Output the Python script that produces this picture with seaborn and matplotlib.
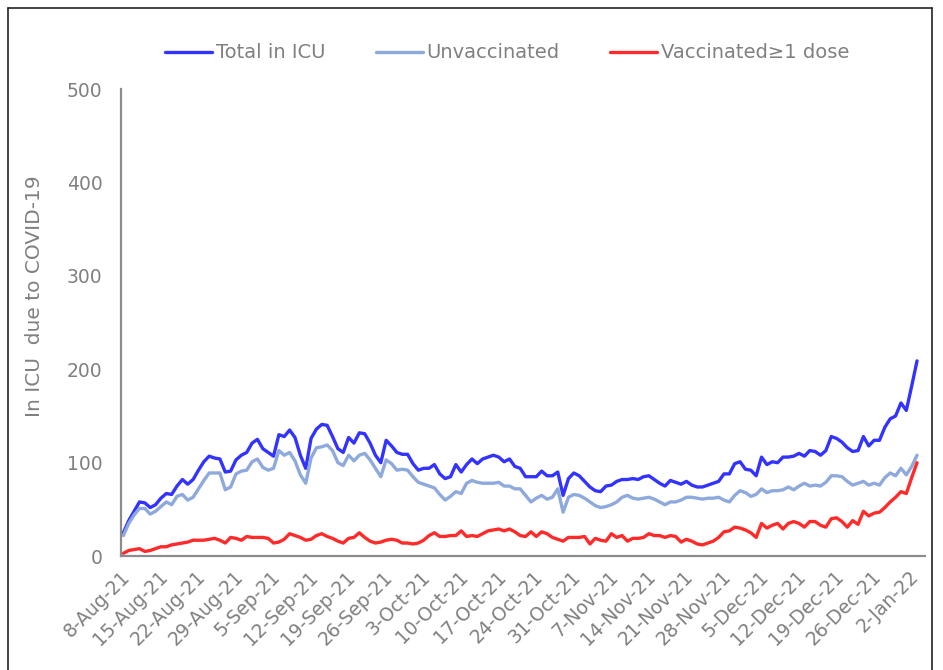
import pandas as pd
import numpy as np
import matplotlib
matplotlib.use("Agg")
import matplotlib.pyplot as plt
from matplotlib.lines import Line2D
import seaborn as sns

# Daily ICU census, 8-Aug-21 .. 3-Jan-22
start_date = "2021-08-08 12:00"

total_icu = [
    25, 38, 48, 58, 57, 52, 55, 62, 67, 66, 75, 82, 77, 82, 92, 101, 107, 105, 104, 90,
    91, 103, 108, 111, 121, 125, 115, 111, 107, 130, 128, 135, 127, 108, 94, 126, 136, 141, 140, 128,
    115, 111, 127, 121, 132, 131, 121, 108, 100, 124, 118, 111, 109, 109, 99, 92, 94, 94, 98, 88,
    83, 85, 98, 90, 98, 104, 99, 104, 106, 108, 106, 101, 104, 96, 94, 85, 85, 85, 91, 86,
    86, 90, 65, 83, 89, 86, 80, 74, 70, 69, 75, 76, 80, 82, 82, 83, 82, 85, 86, 82,
    78, 75, 81, 79, 77, 80, 76, 74, 74, 76, 78, 80, 88, 88, 99, 101, 93, 92, 86, 106,
    98, 101, 100, 106, 106, 107, 110, 107, 113, 112, 108, 113, 128, 126, 122, 116, 112, 113, 128, 118,
    124, 124, 138, 147, 150, 164, 156, 182, 209,
]

unvaccinated = [
    22, 35, 44, 51, 51, 45, 48, 53, 58, 55, 64, 66, 60, 63, 72, 81, 89, 89, 89, 71,
    74, 88, 91, 92, 101, 104, 95, 92, 94, 113, 108, 111, 102, 87, 78, 105, 116, 117, 119, 113,
    100, 97, 108, 102, 108, 110, 103, 94, 85, 103, 99, 92, 93, 92, 85, 79, 77, 75, 73, 66,
    60, 64, 69, 67, 78, 81, 79, 78, 78, 78, 79, 75, 75, 72, 72, 65, 58, 62, 65, 61,
    63, 72, 47, 63, 66, 65, 62, 58, 54, 52, 53, 55, 58, 63, 65, 62, 61, 62, 63, 61,
    58, 55, 58, 58, 60, 63, 63, 62, 61, 62, 62, 63, 60, 58, 65, 70, 68, 64, 66, 72,
    68, 70, 70, 71, 74, 71, 75, 78, 75, 76, 75, 79, 86, 86, 85, 80, 76, 78, 80, 76,
    78, 76, 84, 89, 86, 94, 87, 96, 108,
]

vaccinated = [
    3, 6, 7, 8, 5, 6, 8, 10, 10, 12, 13, 14, 15, 17, 17, 17, 18, 19, 17, 14,
    20, 19, 17, 21, 20, 20, 20, 19, 14, 15, 18, 24, 22, 20, 17, 18, 22, 24, 21, 19,
    16, 14, 19, 20, 25, 20, 16, 14, 15, 17, 18, 17, 14, 14, 13, 14, 17, 22, 25, 21,
    21, 22, 22, 27, 21, 22, 21, 24, 27, 28, 29, 27, 29, 26, 22, 21, 26, 21, 26, 24,
    20, 18, 16, 20, 20, 20, 21, 13, 19, 17, 16, 24, 20, 22, 16, 19, 19, 20, 24, 22,
    22, 20, 22, 21, 15, 18, 16, 13, 12, 14, 16, 20, 26, 27, 31, 30, 28, 25, 20, 35,
    30, 33, 35, 29, 35, 37, 35, 31, 37, 37, 33, 31, 40, 41, 37, 31, 38, 34, 48, 43,
    46, 47, 52, 58, 63, 69, 67, 84, 100,
]

series_names = ["Total in ICU", "Unvaccinated", "Vaccinated\u22651 dose"]
series_colors = ["#3333FF", "#8EA9DB", "#FF2A2A"]

dates = pd.date_range(start_date, periods=len(total_icu), freq="D")
df = pd.DataFrame({
    "date": np.tile(dates, 3),
    "value": total_icu + unvaccinated + vaccinated,
    "series": np.repeat(series_names, len(dates)),
})

sns.set_theme(style="white")
plt.rcParams["font.family"] = ["DejaVu Sans"]
grey = "#808080"

fig = plt.figure(figsize=(9.43, 6.70), dpi=100)
ax = fig.add_axes([0.128, 0.170, 0.853, 0.697])

sns.lineplot(data=df, x="date", y="value", hue="series", hue_order=series_names,
             palette=series_colors, linewidth=2.4, ax=ax, legend=False)

# axes
ax.set_ylim(0, 500)
ax.set_yticks(range(0, 501, 100))
ax.set_xlim(pd.Timestamp("2021-08-08"), pd.Timestamp("2022-01-05"))
week_ticks = pd.date_range("2021-08-08", "2022-01-02", freq="7D")
ax.set_xticks(week_ticks)
ax.set_xticklabels([f"{d.day}-{d.strftime('%b-%y')}" for d in week_ticks],
                   rotation=45, ha="right", va="top", rotation_mode="anchor")
ax.set_xlabel("")
ax.set_ylabel("In ICU  due to COVID-19", color=grey, fontsize=14.5)
ax.yaxis.set_label_coords(-0.095, 0.557)

for side in ["top", "right"]:
    ax.spines[side].set_visible(False)
for side in ["left", "bottom"]:
    ax.spines[side].set_color("#8C8C8C")
    ax.spines[side].set_linewidth(1.6)
ax.tick_params(axis="y", direction="out", length=5, width=1.4, color="#8C8C8C",
               labelcolor=grey, labelsize=13.5, pad=8)
ax.tick_params(axis="x", direction="out", length=6, width=1.4, color="#8C8C8C",
               labelcolor=grey, labelsize=13.5, pad=2)
ax.grid(False)

# legend across the top
handles = [Line2D([0], [0], color=c, lw=2.4) for c in series_colors]
leg = fig.legend(handles, series_names, loc="center", bbox_to_anchor=(0.538, 0.921),
                 ncol=3, frameon=False, fontsize=14, handlelength=2.4,
                 handletextpad=0.2, columnspacing=2.6)
for t in leg.get_texts():
    t.set_color(grey)

# outer frame of the picture
for xs, ys in [((8 / 943, 8 / 943), (0, 1 - 8 / 670)),
               ((8 / 943, 932 / 943), (1 - 8 / 670, 1 - 8 / 670)),
               ((932 / 943, 932 / 943), (0, 1 - 8 / 670))]:
    fig.add_artist(Line2D(xs, ys, transform=fig.transFigure, color="#222222", lw=1.2))

fig.savefig("out.png", dpi=100)
